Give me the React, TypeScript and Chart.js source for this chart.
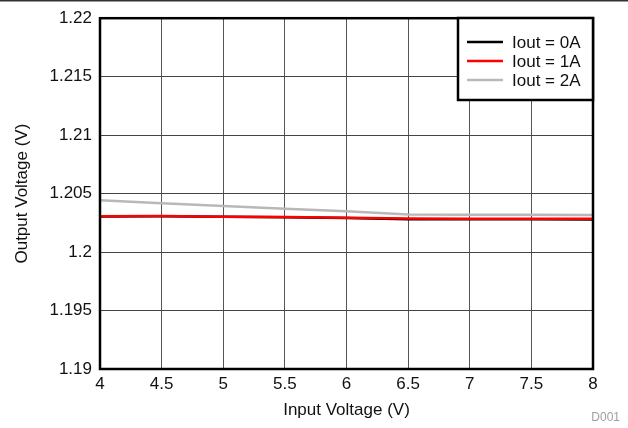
import React, { useEffect, useRef } from "react";
import { Chart, registerables } from "chart.js";

Chart.register(...registerables);

const inputVoltage = [4, 4.5, 5, 5.5, 6, 6.5, 7, 7.5, 8];
const iout0A = [1.20305, 1.20307, 1.20301, 1.20298, 1.20291, 1.20281, 1.2028, 1.2028, 1.20279];
const iout1A = [1.20306, 1.20308, 1.20302, 1.203, 1.20294, 1.20286, 1.20285, 1.20284, 1.20284];
const iout2A = [1.20443, 1.20418, 1.20393, 1.2037, 1.2035, 1.20322, 1.2032, 1.20319, 1.20318];
const seriesLabels = ["Iout = 0A", "Iout = 1A", "Iout = 2A"];
const seriesColors = ["#000000", "#ff0000", "#b8b8b8"];
const xTickLabels = ["4", "4.5", "5", "5.5", "6", "6.5", "7", "7.5", "8"];
const yTickLabels = ["1.19", "1.195", "1.2", "1.205", "1.21", "1.215", "1.22"];
const xTitle = "Input Voltage (V)";
const yTitle = "Output Voltage (V)";
const figureId = "D001";

const FONT = "'Liberation Sans', Arial, sans-serif";
const FS = 17;

const framePlugin = {
  id: "frame",
  afterDatasetsDraw(chart: any) {
    const { ctx, chartArea } = chart;
    const { left, top, right, bottom } = chartArea;
    ctx.save();
    ctx.strokeStyle = "#000";
    ctx.lineWidth = 2.5;
    ctx.strokeRect(left, top, right - left, bottom - top);

    // legend box
    const bx = 458, by = 18, bw = 135, bh = 82;
    ctx.fillStyle = "#fff";
    ctx.fillRect(bx, by, bw, bh);
    ctx.lineWidth = 2.5;
    ctx.strokeStyle = "#000";
    ctx.strokeRect(bx, by, bw, bh);
    const rows = [42, 61, 80];
    ctx.font = `${FS}px ${FONT}`;
    ctx.textBaseline = "middle";
    ctx.textAlign = "left";
    chart.data.datasets.forEach((ds: any, i: number) => {
      ctx.strokeStyle = ds.borderColor;
      ctx.lineWidth = 2.5;
      ctx.beginPath();
      ctx.moveTo(467, rows[i]);
      ctx.lineTo(503, rows[i]);
      ctx.stroke();
      ctx.fillStyle = "#111";
      ctx.fillText(ds.label, 512, rows[i] + 1);
    });

    // top rule
    ctx.strokeStyle = "#333";
    ctx.lineWidth = 1.5;
    ctx.beginPath();
    ctx.moveTo(0, 0.75);
    ctx.lineTo(628, 0.75);
    ctx.stroke();

    // figure id
    ctx.font = `12px ${FONT}`;
    ctx.fillStyle = "#a0a0a0";
    ctx.textAlign = "right";
    ctx.fillText(figureId, 620, 418);
    ctx.restore();
  },
};

export default function App() {
  const ref = useRef<HTMLCanvasElement>(null);
  useEffect(() => {
    if (!ref.current) return;
    const mk = (vals: number[]) => inputVoltage.map((x, i) => ({ x, y: vals[i] }));
    const series = [iout0A, iout1A, iout2A];
    const chart = new Chart(ref.current, {
      type: "line",
      data: {
        datasets: series.map((s, i) => ({
          label: seriesLabels[i],
          data: mk(s),
          borderColor: seriesColors[i],
          backgroundColor: seriesColors[i],
          borderWidth: 2.5,
          pointRadius: 0,
          tension: 0,
          order: i === 0 ? 2 : i === 1 ? 1 : 3,
        })),
      },
      options: {
        animation: false,
        responsive: false,
        devicePixelRatio: 1,
        layout: { padding: { left: 0, right: 35, top: 17, bottom: 0 } },
        plugins: { legend: { display: false }, tooltip: { enabled: false } },
        scales: {
          x: {
            type: "linear",
            min: 4,
            max: 8,
            afterFit: (s: any) => { s.height = 59; },
            ticks: {
              stepSize: 0.5,
              padding: 5,
              color: "#111",
              font: { family: FONT, size: FS },
              maxRotation: 0,
              callback: (_v: any, i: number) => xTickLabels[i],
            },
            grid: { color: "#555", lineWidth: 1, drawTicks: false },
            border: { display: false },
            title: {
              display: true,
              text: xTitle,
              color: "#111",
              font: { family: FONT, size: FS },
              padding: { top: 0, bottom: 7 },
            },
          },
          y: {
            type: "linear",
            min: 1.19,
            max: 1.22,
            afterFit: (s: any) => { s.width = 100; },
            ticks: {
              stepSize: 0.005,
              padding: 8,
              color: "#111",
              font: { family: FONT, size: FS },
              callback: (_v: any, i: number) => yTickLabels[i],
            },
            grid: { color: "#444", lineWidth: 1, drawTicks: false },
            border: { display: false },
            title: {
              display: true,
              text: yTitle,
              color: "#111",
              font: { family: FONT, size: FS },
              padding: { top: 12, bottom: 0 },
            },
          },
        },
      },
      plugins: [framePlugin],
    });
    return () => chart.destroy();
  }, []);
  return (
    <div style={{ position: "fixed", left: 0, top: 0, width: 628, height: 428, background: "#fff" }}>
      <canvas ref={ref} width={628} height={428} style={{ display: "block" }} />
    </div>
  );
}
